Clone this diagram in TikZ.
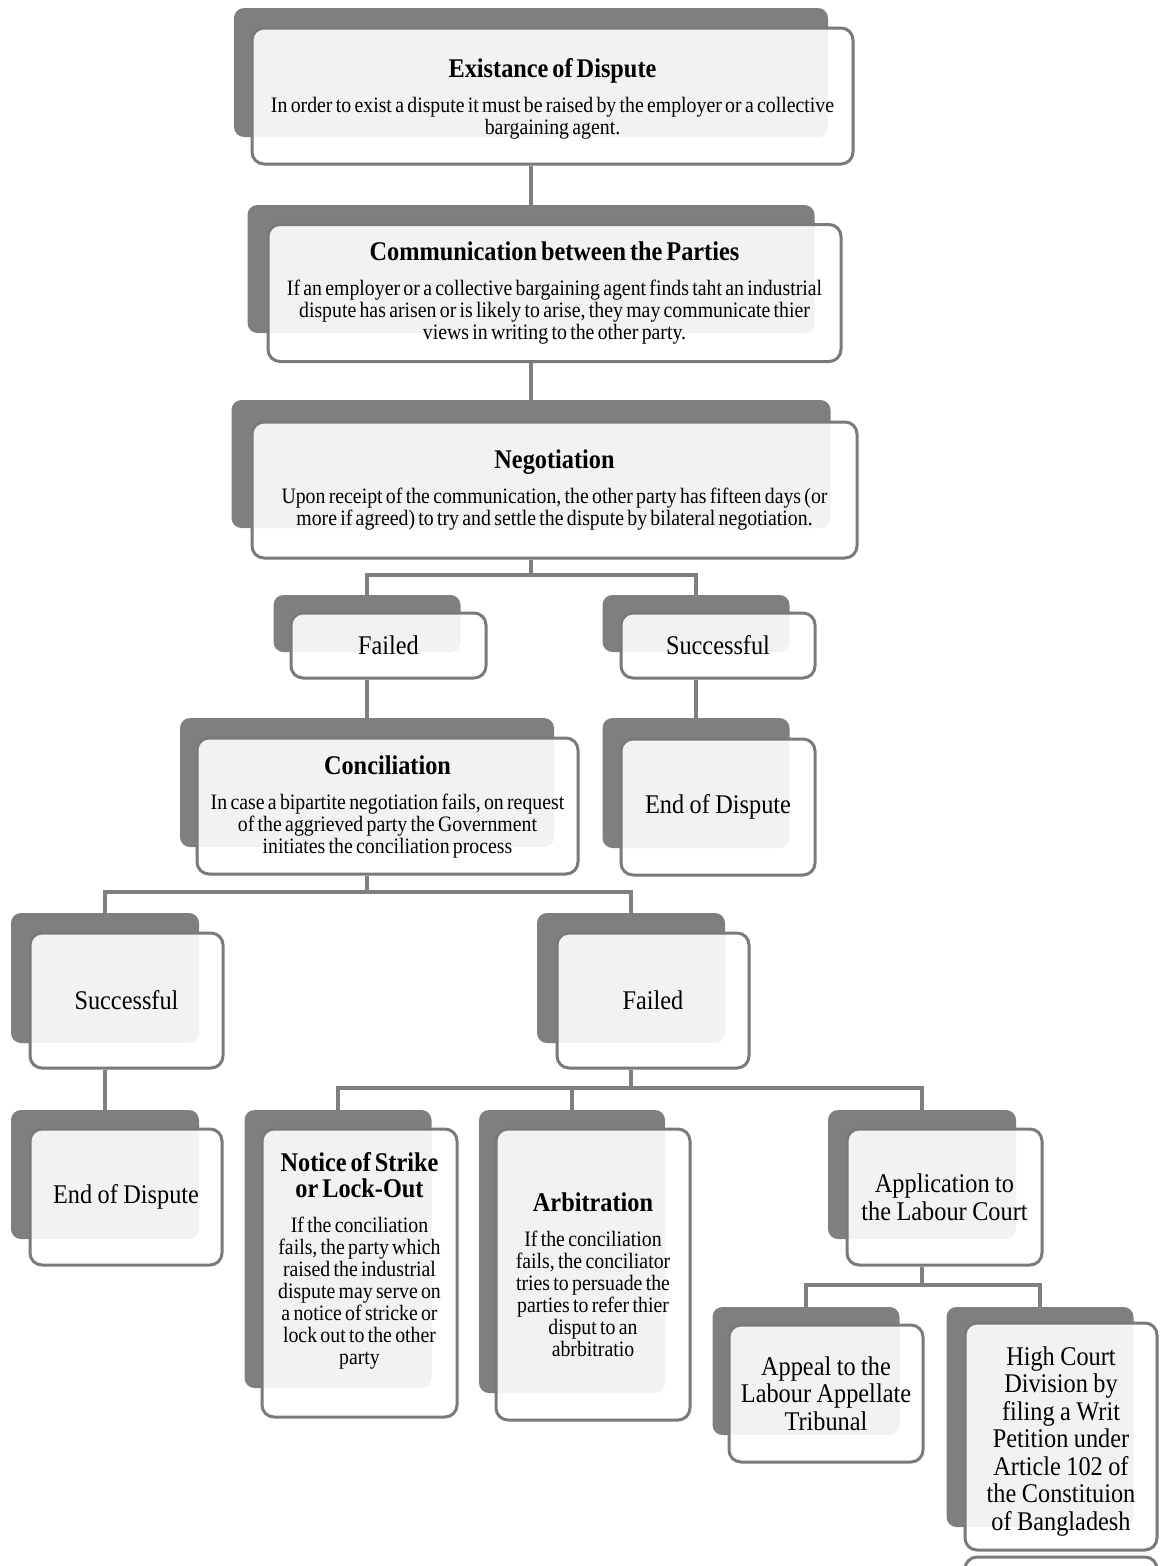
\documentclass[tikz,border=0pt]{standalone}
\usepackage{fontspec}
\setmainfont{Liberation Serif}[FakeStretch=0.9]
\definecolor{boxgray}{HTML}{7F7F7F}
\definecolor{edgegray}{HTML}{7A7A7A}
\newcommand\bodyspace{\spaceskip=3.3pt\relax}
\newcommand\tagspace{\spaceskip=5.5pt\relax}
\newcommand\boxhead[1]{{\fontsize{27}{26}\selectfont\bfseries\spaceskip=4pt\relax #1\par}\vspace{13pt}}
\setlength{\parskip}{0pt}

\begin{document}
\begin{tikzpicture}[x=1pt, y=-1pt,
  back/.style = {fill=boxgray, rounded corners=10pt, inner sep=0pt},
  card/.style = {draw=edgegray, line width=3pt, rounded corners=12pt, fill=white, fill opacity=0.9, text opacity=1, align=center, inner sep=4pt, font=\fontsize{22}{22}\selectfont, execute at begin node=\bodyspace},
  tag/.style = {card, font=\fontsize{27}{27.5}\selectfont, execute at begin node=\tagspace},
  link/.style = {draw=boxgray, line width=4pt}]
\useasboundingbox (0,0) rectangle (1161,1566);
\clip (0,0) rectangle (1161,1566);

% shadows
\node[back, minimum width=594pt, minimum height=129pt] (s1) at (531,72.5) {};
\node[back, minimum width=567pt, minimum height=128pt] (s2) at (531,269) {};
\node[back, minimum width=599pt, minimum height=128pt] (s3) at (531,464) {};
\node[back, minimum width=187pt, minimum height=57pt] (s4) at (367,623.5) {};
\node[back, minimum width=187pt, minimum height=57pt] (s5) at (696,623.5) {};
\node[back, minimum width=374pt, minimum height=129pt] (s6) at (367,782.5) {};
\node[back, minimum width=187pt, minimum height=130pt] (s7) at (696,783) {};
\node[back, minimum width=188pt, minimum height=130pt] (s8) at (105,978) {};
\node[back, minimum width=188pt, minimum height=130pt] (s9) at (631,978) {};
\node[back, minimum width=188pt, minimum height=129pt] (s10) at (105,1174.5) {};
\node[back, minimum width=187pt, minimum height=278pt] (s11) at (338,1249) {};
\node[back, minimum width=186pt, minimum height=283pt] (s12) at (572,1251.5) {};
\node[back, minimum width=188pt, minimum height=129pt] (s13) at (922,1174.5) {};
\node[back, minimum width=187pt, minimum height=128pt] (s14) at (806,1371) {};
\node[back, minimum width=187pt, minimum height=220pt] (s15) at (1040,1417) {};

% boxes
\node[card, minimum width=601pt, minimum height=136pt, text width=593pt] (b1) at (552.5,96) {\boxhead{Existance of Dispute}In order to exist a dispute it must be raised by the employer or a collective\\ bargaining agent.\par\vspace{-22pt}\hbox{}};
\node[card, minimum width=573pt, minimum height=137pt, text width=565pt] (b2) at (554.5,293) {\boxhead{Communication between the Parties}If an employer or a collective bargaining agent finds taht an industrial\\ dispute has arisen or is likely to arise, they may communicate thier\\ views in writing to the other party.};
\node[card, minimum width=605pt, minimum height=136pt, text width=597pt] (b3) at (554.5,490) {\boxhead{Negotiation}Upon receipt of the communication, the other party has fifteen days (or\\ more if agreed) to try and settle the dispute by bilateral negotiation.};
\node[tag, minimum width=195pt, minimum height=65pt, text width=187pt] (b4) at (388.5,645.5) {Failed};
\node[tag, minimum width=194pt, minimum height=65pt, text width=186pt] (b5) at (718,645.5) {Successful};
\node[card, minimum width=381pt, minimum height=136pt, text width=373pt] (b6) at (387.5,806) {\boxhead{Conciliation}In case a bipartite negotiation fails, on request\\ of the aggrieved party the Government\\ initiates the conciliation process\par\vspace{-20pt}\hbox{}};
\node[tag, minimum width=194pt, minimum height=136pt, text width=186pt] (b7) at (718,807) {End of Dispute};
\node[tag, minimum width=193pt, minimum height=135pt, text width=185pt] (b8) at (126.5,1000.5) {Successful};
\node[tag, minimum width=192pt, minimum height=135pt, text width=184pt] (b9) at (653,1000.5) {Failed};
\node[tag, minimum width=192pt, minimum height=136pt, text width=184pt] (b10) at (126,1197) {End of Dispute};
\node[card, minimum width=195pt, minimum height=288pt, text width=187pt] (b11) at (359.5,1273) {\boxhead{Notice of Strike\\ or Lock-Out}If the conciliation\\ fails, the party which\\ raised the industrial\\ dispute may serve on\\ a notice of stricke or\\ lock out to the other\\ party\par\vspace{8pt}\hbox{}};
\node[card, minimum width=194pt, minimum height=291pt, text width=186pt] (b12) at (593,1274.5) {\boxhead{Arbitration}If the conciliation\\ fails, the conciliator\\ tries to persuade the\\ parties to refer thier\\ disput to an\\ abrbitratio};
\node[tag, minimum width=195pt, minimum height=136pt, text width=187pt] (b13) at (944.5,1197) {Application to\\ the Labour Court};
\node[tag, minimum width=194pt, minimum height=137pt, text width=186pt] (b14) at (826,1393.5) {Appeal to the\\ Labour Appellate\\ Tribunal};
\node[tag, minimum width=192pt, minimum height=227pt, text width=184pt] (b15) at (1061,1436.5) {High Court\\ Division by\\ filing a Writ\\ Petition under\\ Article 102 of\\ the Constituion\\ of Bangladesh\par\vspace{-31.5pt}\hbox{}};
\node[card, minimum width=192pt, minimum height=200pt] (b16) at (1061,1657) {};

% connectors
\coordinate (j3) at (531,575);
\coordinate (j6) at (367,892);
\coordinate (j9) at (631,1088);
\coordinate (j13) at (922,1285);
\draw[link] (b1.south -| s2.north) -- (s2.north);
\draw[link] (b2.south -| s3.north) -- (s3.north);
\draw[link] (b3.south -| j3) -- (j3);
\draw[link] (s4.north) |- (j3) -| (s5.north);
\draw[link] (b4.south -| s6.north) -- (s6.north);
\draw[link] (b5.south -| s7.north) -- (s7.north);
\draw[link] (b6.south -| j6) -- (j6);
\draw[link] (s8.north) |- (j6) -| (s9.north);
\draw[link] (b8.south -| s10.north) -- (s10.north);
\draw[link] (b9.south -| j9) -- (j9);
\draw[link] (s11.north) |- (j9) -| (s13.north);
\draw[link] (j9 -| s12.north) -- (s12.north);
\draw[link] (b13.south -| j13) -- (j13);
\draw[link] (s14.north) |- (j13) -| (s15.north);
\end{tikzpicture}
\end{document}
